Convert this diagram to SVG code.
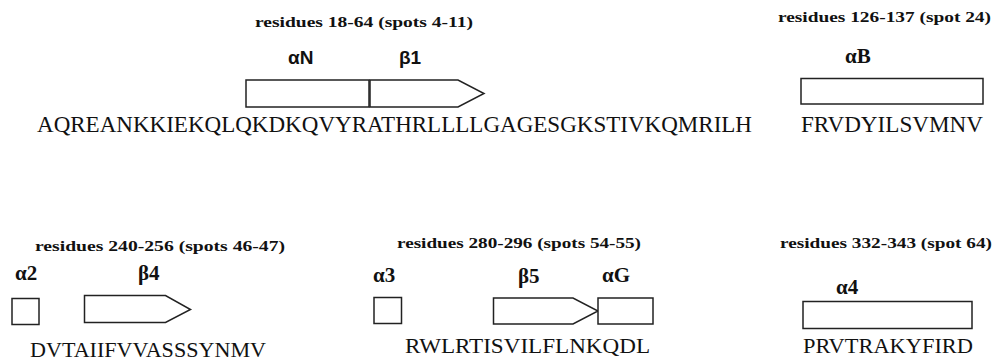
<svg xmlns="http://www.w3.org/2000/svg" width="993" height="357" viewBox="0 0 993 357">
<style>
.bg{fill:#fff}
.hdr{font-family:"Liberation Serif",serif;font-weight:bold;font-size:14px;fill:#111}
.ss{font-family:"Liberation Serif",serif;font-weight:bold;font-size:21px;fill:#111}
.sss{font-family:"Liberation Sans",sans-serif;font-weight:bold;font-size:19px;fill:#111}
.seq{font-family:"Liberation Serif",serif;font-size:22px;fill:#111}
.seqL{font-family:"Liberation Serif",serif;font-size:24px;fill:#111}
.box{fill:#fff;stroke:#222;stroke-width:1.5}
</style>
<rect class="bg" x="0" y="0" width="993" height="357"/>
<g id="seg1">
<text class="hdr" x="255" y="27" textLength="218" lengthAdjust="spacingAndGlyphs">residues 18-64 (spots 4-11)</text>
<text class="sss" x="288" y="64">αN</text>
<text class="sss" x="399" y="64">β1</text>
<rect class="box" x="246" y="80" width="123" height="27"/>
<path class="box" d="M370,80 H458 L484,93.5 L458,107 H370 Z"/>
<text class="seqL" x="37" y="132" textLength="715" lengthAdjust="spacingAndGlyphs">AQREANKKIEKQLQKDKQVYRATHRLLLLGAGESGKSTIVKQMRILH</text>
</g>
<g id="seg2">
<text class="hdr" x="778" y="22" textLength="213" lengthAdjust="spacingAndGlyphs">residues 126-137  (spot 24)</text>
<text class="ss" x="845" y="63">αB</text>
<rect class="box" x="801" y="78.5" width="182" height="25.5"/>
<text class="seqL" x="801" y="132" textLength="182" lengthAdjust="spacingAndGlyphs">FRVDYILSVMNV</text>
</g>
<g id="seg3">
<text class="hdr" x="35" y="251" textLength="250" lengthAdjust="spacingAndGlyphs">residues 240-256  (spots 46-47)</text>
<text class="ss" x="15" y="280">α2</text>
<text class="ss" x="138" y="280">β4</text>
<rect class="box" x="12" y="298.5" width="27" height="26"/>
<path class="box" d="M84.5,295.5 H165.5 L190.5,309.5 L165.5,322.5 H84.5 Z"/>
<text class="seq" x="30" y="357" textLength="236" lengthAdjust="spacingAndGlyphs">DVTAIIFVVASSSYNMV</text>
</g>
<g id="seg4">
<text class="hdr" x="397" y="248" textLength="244" lengthAdjust="spacingAndGlyphs">residues 280-296  (spots 54-55)</text>
<text class="ss" x="373" y="282">α3</text>
<text class="ss" x="518" y="283">β5</text>
<text class="ss" x="602" y="282">αG</text>
<rect class="box" x="374" y="297.5" width="27.5" height="26"/>
<path class="box" d="M493.5,298 H573 L598,311 L573,324 H493.5 Z"/>
<rect class="box" x="598" y="298" width="55" height="26"/>
<text class="seq" x="405" y="353" textLength="245" lengthAdjust="spacingAndGlyphs">RWLRTISVILFLNKQDL</text>
</g>
<g id="seg5">
<text class="hdr" x="780" y="248" textLength="212" lengthAdjust="spacingAndGlyphs">residues 332-343  (spot 64)</text>
<text class="ss" x="836" y="294">α4</text>
<rect class="box" x="803" y="301.5" width="169" height="27"/>
<text class="seq" x="803" y="353" textLength="170" lengthAdjust="spacingAndGlyphs">PRVTRAKYFIRD</text>
</g>
<g id="connectors"></g>
</svg>
